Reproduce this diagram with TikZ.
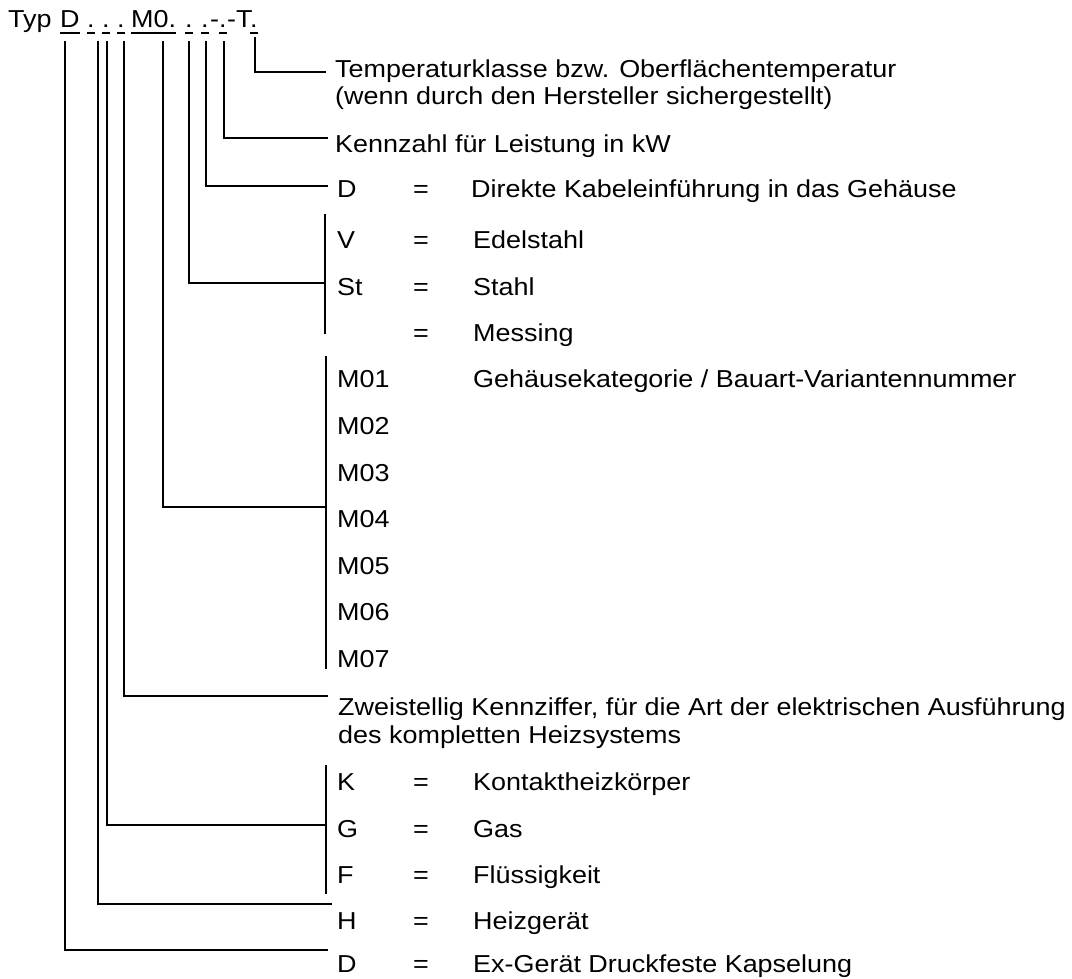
\documentclass[tikz,border=0pt]{standalone}
\usepackage{fontspec}
\setmainfont{Liberation Sans}[FakeStretch=1.1]
\begin{document}
\begin{tikzpicture}[x=1pt,y=-1pt,
  txt/.style={inner sep=0pt, anchor=base west, font=\fontsize{24.5}{28}\selectfont},
  ln/.style={line width=2pt, line cap=rect},
  ul/.style={line width=1.8pt}]
\useasboundingbox[fill=white] (0,0) rectangle (1072,979);

% ---------- header ----------
\node[txt] (hTyp) at (8,28) {Typ};
\node[txt] (hD)   at (60,28) {D};
\node[txt] (hd1)  at (87,28) {.};
\node[txt] (hd2)  at (102,28) {.};
\node[txt] (hd3)  at (117,28) {.};
\node[txt] (hM)   at (131,28) {M0.};
\node[txt] (hd4)  at (185,28) {.};
\node[txt] (hd5)  at (201,28) {.};
\node[txt] (hm1)  at (210,28) {-};
\node[txt] (hd6)  at (219,28) {.};
\node[txt] (hm2)  at (227,28) {-T};
\node[txt] (hd7)  at (250,28) {.};
\foreach \n in {hD,hd1,hd2,hd3,hM,hd4,hd5,hd6,hd7}
  \draw[ul] ([yshift=-5pt]\n.base west) -- ([yshift=-5pt]\n.base east);

% ---------- rows ----------
\node[txt] (tT1) at (335,78)  {Temperaturklasse bzw. Oberflächentemperatur};
\node[txt] (tT2) at (335,105) {(wenn durch den Hersteller sichergestellt)};
\node[txt] (tKz) at (335,153) {Kennzahl für Leistung in kW};

\node[txt] (cDd) at (337,198) {D};
\node[txt] (qDd) at (413,198) {=};
\node[txt] (dDd) at (471,198) {Direkte Kabeleinführung in das Gehäuse};

\node[txt] (cV)  at (337,248) {V};
\node[txt] (qV)  at (413,248) {=};
\node[txt] (dV)  at (473,248) {Edelstahl};
\node[txt] (cSt) at (337,295) {St};
\node[txt] (qSt) at (413,295) {=};
\node[txt] (dSt) at (473,295) {Stahl};
\node[txt] (qMs) at (413,341) {=};
\node[txt] (dMs) at (473,341) {Messing};

\node[txt] (cM1) at (337,387) {M01};
\node[txt] (dM1) at (473,387) {Gehäusekategorie / Bauart-Variantennummer};
\node[txt] (cM2) at (337,434) {M02};
\node[txt] (cM3) at (337,481) {M03};
\node[txt] (cM4) at (337,527) {M04};
\node[txt] (cM5) at (337,574) {M05};
\node[txt] (cM6) at (337,620) {M06};
\node[txt] (cM7) at (337,667) {M07};

\node[txt] (tZw1) at (338,715) {Zweistellig Kennziffer, für die Art der elektrischen Ausführung};
\node[txt] (tZw2) at (338,743) {des kompletten Heizsystems};

\node[txt] (cK) at (337,790) {K};
\node[txt] (qK) at (413,790) {=};
\node[txt] (dK) at (473,790) {Kontaktheizkörper};
\node[txt] (cG) at (337,837) {G};
\node[txt] (qG) at (413,837) {=};
\node[txt] (dG) at (473,837) {Gas};
\node[txt] (cF) at (337,883) {F};
\node[txt] (qF) at (413,883) {=};
\node[txt] (dF) at (473,883) {Flüssigkeit};
\node[txt] (cH) at (337,929) {H};
\node[txt] (qH) at (413,929) {=};
\node[txt] (dH) at (473,929) {Heizgerät};
\node[txt] (cD) at (337,972) {D};
\node[txt] (qD) at (413,972) {=};
\node[txt] (dD) at (473,972) {Ex-Gerät Druckfeste Kapselung};

% ---------- connector coordinates ----------
\coordinate (sT)  at (255,38);  \coordinate (eT)  at (325,72);
\coordinate (sKz) at (224,42);  \coordinate (eKz) at (327,138);
\coordinate (sDd) at (206,42);  \coordinate (eDd) at (327,186);
\coordinate (sSt) at (189,42);  \coordinate (eSt) at (325,283);
\coordinate (bS1) at (325,215); \coordinate (bS2) at (325,333);
\coordinate (sM)  at (163,42);  \coordinate (eM)  at (326,507);
\coordinate (bM1) at (326,357); \coordinate (bM2) at (326,668);
\coordinate (sZw) at (124,42);  \coordinate (eZw) at (327,696);
\coordinate (sG)  at (107,42);  \coordinate (eG)  at (326,825);
\coordinate (bG1) at (326,766); \coordinate (bG2) at (326,893);
\coordinate (sH)  at (98,42);   \coordinate (eH)  at (331,904);
\coordinate (sD)  at (65,42);   \coordinate (eD)  at (327,950);

% ---------- connectors ----------
\draw[ln] (sT)  |- (eT);
\draw[ln] (sKz) |- (eKz);
\draw[ln] (sDd) |- (eDd);
\draw[ln] (sSt) |- (eSt);
\draw[ln] (bS1) -- (bS2);
\draw[ln] (sM)  |- (eM);
\draw[ln] (bM1) -- (bM2);
\draw[ln] (sZw) |- (eZw);
\draw[ln] (sG)  |- (eG);
\draw[ln] (bG1) -- (bG2);
\draw[ln] (sH)  |- (eH);
\draw[ln] (sD)  |- (eD);
\end{tikzpicture}
\end{document}
